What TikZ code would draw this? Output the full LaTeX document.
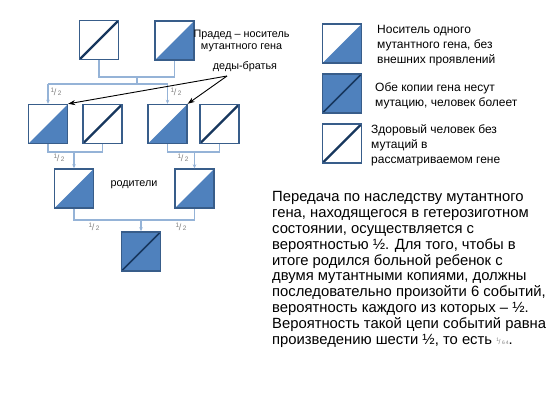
\documentclass[tikz,border=0pt]{standalone}
\usepackage{fontspec}
\setmainfont{Liberation Sans}
\usetikzlibrary{arrows.meta}
\definecolor{fillblue}{HTML}{4F81BD}
\definecolor{edgeblue}{HTML}{385D8A}
\definecolor{diagblue}{HTML}{17375E}
\definecolor{linkblue}{HTML}{95B3D7}
\definecolor{fracgray}{HTML}{7F7F7F}
\newcommand\myfrac[2]{{\color{fracgray}\raisebox{2.5pt}{\fontsize{6.5}{6.5}\selectfont #1}\kern-0.3pt{\fontsize{9}{9}\selectfont/}\kern1.5pt\raisebox{-0.5pt}{\fontsize{6.5}{6.5}\selectfont #2}}}
\tikzset{
  sq/.style={draw=edgeblue, line width=1.4pt, minimum size=39pt, inner sep=0pt},
  healthy/.style={sq, fill=white, path picture={\draw[diagblue, line width=2.4pt] (path picture bounding box.south west) -- (path picture bounding box.north east);}},
  carrier/.style={sq, fill=white, path picture={\fill[fillblue] (path picture bounding box.south west) -- (path picture bounding box.south east) -- (path picture bounding box.north east) -- cycle;}},
  affected/.style={sq, fill=fillblue, path picture={\draw[diagblue, line width=1.6pt] (path picture bounding box.south west) -- (path picture bounding box.north east);}},
  link/.style={draw=linkblue, line width=1.3pt},
  linkarrow/.style={link, -{Stealth[length=4pt,width=3.5pt]}},
  pointer/.style={draw=black, line width=0.9pt, -{Stealth[length=7pt,width=5pt]}},
  lbl/.style={font=\fontsize{10.8}{12}\selectfont, inner sep=0pt, align=center},
  legtext/.style={font=\fontsize{12}{15}\selectfont, inner sep=0pt, align=left, anchor=base west},
  frac/.style={inner sep=0pt}
}
\begin{document}
\begin{tikzpicture}[x=1pt,y=-1pt]
\useasboundingbox (0,0) rectangle (550,413);
% generation 1
\node[healthy] (s1) at (99,40) {};
\node[carrier] (s2) at (174.5,40.5) {};
% generation 2
\node[carrier] (a) at (48,124) {};
\node[healthy] (b) at (102.5,124) {};
\node[carrier] (c) at (167.5,124) {};
\node[healthy] (d) at (219.5,124) {};
% generation 3
\node[carrier] (l) at (74,188.5) {};
\node[carrier] (r) at (194.5,188.5) {};
% generation 4
\node[affected] (k) at (141,251.5) {};
% legend
\node[carrier] (g1) at (342,43.5) {};
\node[affected] (g2) at (342,93.5) {};
\node[healthy] (g3) at (342,143.5) {};

% connectors
\coordinate (m1) at (137,77);
\coordinate (m1b) at (137,84);
\draw[link] (s1.south) |- (m1) -| (s2.south);
\draw[link] (m1) -- (m1b);
\draw[link] (48,84) -- (168,84);
\draw[linkarrow] (48,84) -- (a.north);
\draw[linkarrow] (167.5,84) -- (c.north);

\coordinate (m2) at (74,152);
\draw[link] (a.south) |- (m2) -| (b.south);
\draw[linkarrow] (m2) -- (l.north);
\coordinate (m3) at (194.5,152);
\draw[link] (c.south) |- (m3) -| (d.south);
\draw[linkarrow] (m3) -- (r.north);

\coordinate (m4) at (141,220);
\draw[link] (l.south) |- (m4) -| (r.south);
\draw[linkarrow] (m4) -- (k.north);

% fractions
\node[frac] (f1) at (56,92) {\myfrac{1}{2}};
\node[frac] (f2) at (176,92) {\myfrac{1}{2}};
\node[frac] (f3) at (59,158) {\myfrac{1}{2}};
\node[frac] (f4) at (183,158) {\myfrac{1}{2}};
\node[frac] (f5) at (94,227) {\myfrac{1}{2}};
\node[frac] (f6) at (181,227) {\myfrac{1}{2}};

% labels
\node[lbl] (pra) at (241.5,41) {Прадед – носитель\\мутантного гена};
\node[lbl] (dedy) at (245,67) {деды-братья};
\node[lbl] (rod) at (134,185) {родители};
\coordinate (ptr) at (227,76);
\draw[pointer] (ptr) -- (a.north east);
\draw[pointer] (ptr) -- (c.north east);

% legend texts (base = last line)
\node[legtext] (t1) at (377,63) {Носитель одного\\мутантного гена, без\\внешних проявлений};
\node[legtext] (t2) at (375,106) {Обе копии гена несут\\мутацию, человек болеет};
\node[legtext] (t3) at (371,163) {Здоровый человек без\\мутаций в\\рассматриваемом гене};

% paragraph (base = last line)
\node[inner sep=0pt, anchor=base west, align=left, font=\fontsize{14.8}{15.8}\selectfont] (par) at (272,344)
{Передача по наследству мутантного\\гена, находящегося в гетерозиготном\\состоянии, осуществляется с\\вероятностью ½. Для того, чтобы в\\итоге родился больной ребенок с\\двумя мутантными копиями, должны\\последовательно произойти 6 событий,\\вероятность каждого из которых – ½.\\Вероятность такой цепи событий равна\\произведению шести ½, то есть {\color{fracgray}\raisebox{2.5pt}{\fontsize{5}{5}\selectfont 1}\kern-0.3pt{\fontsize{7}{7}\selectfont/}\kern1.5pt{\fontsize{5}{5}\selectfont 6\,4}}.};
\end{tikzpicture}
\end{document}
